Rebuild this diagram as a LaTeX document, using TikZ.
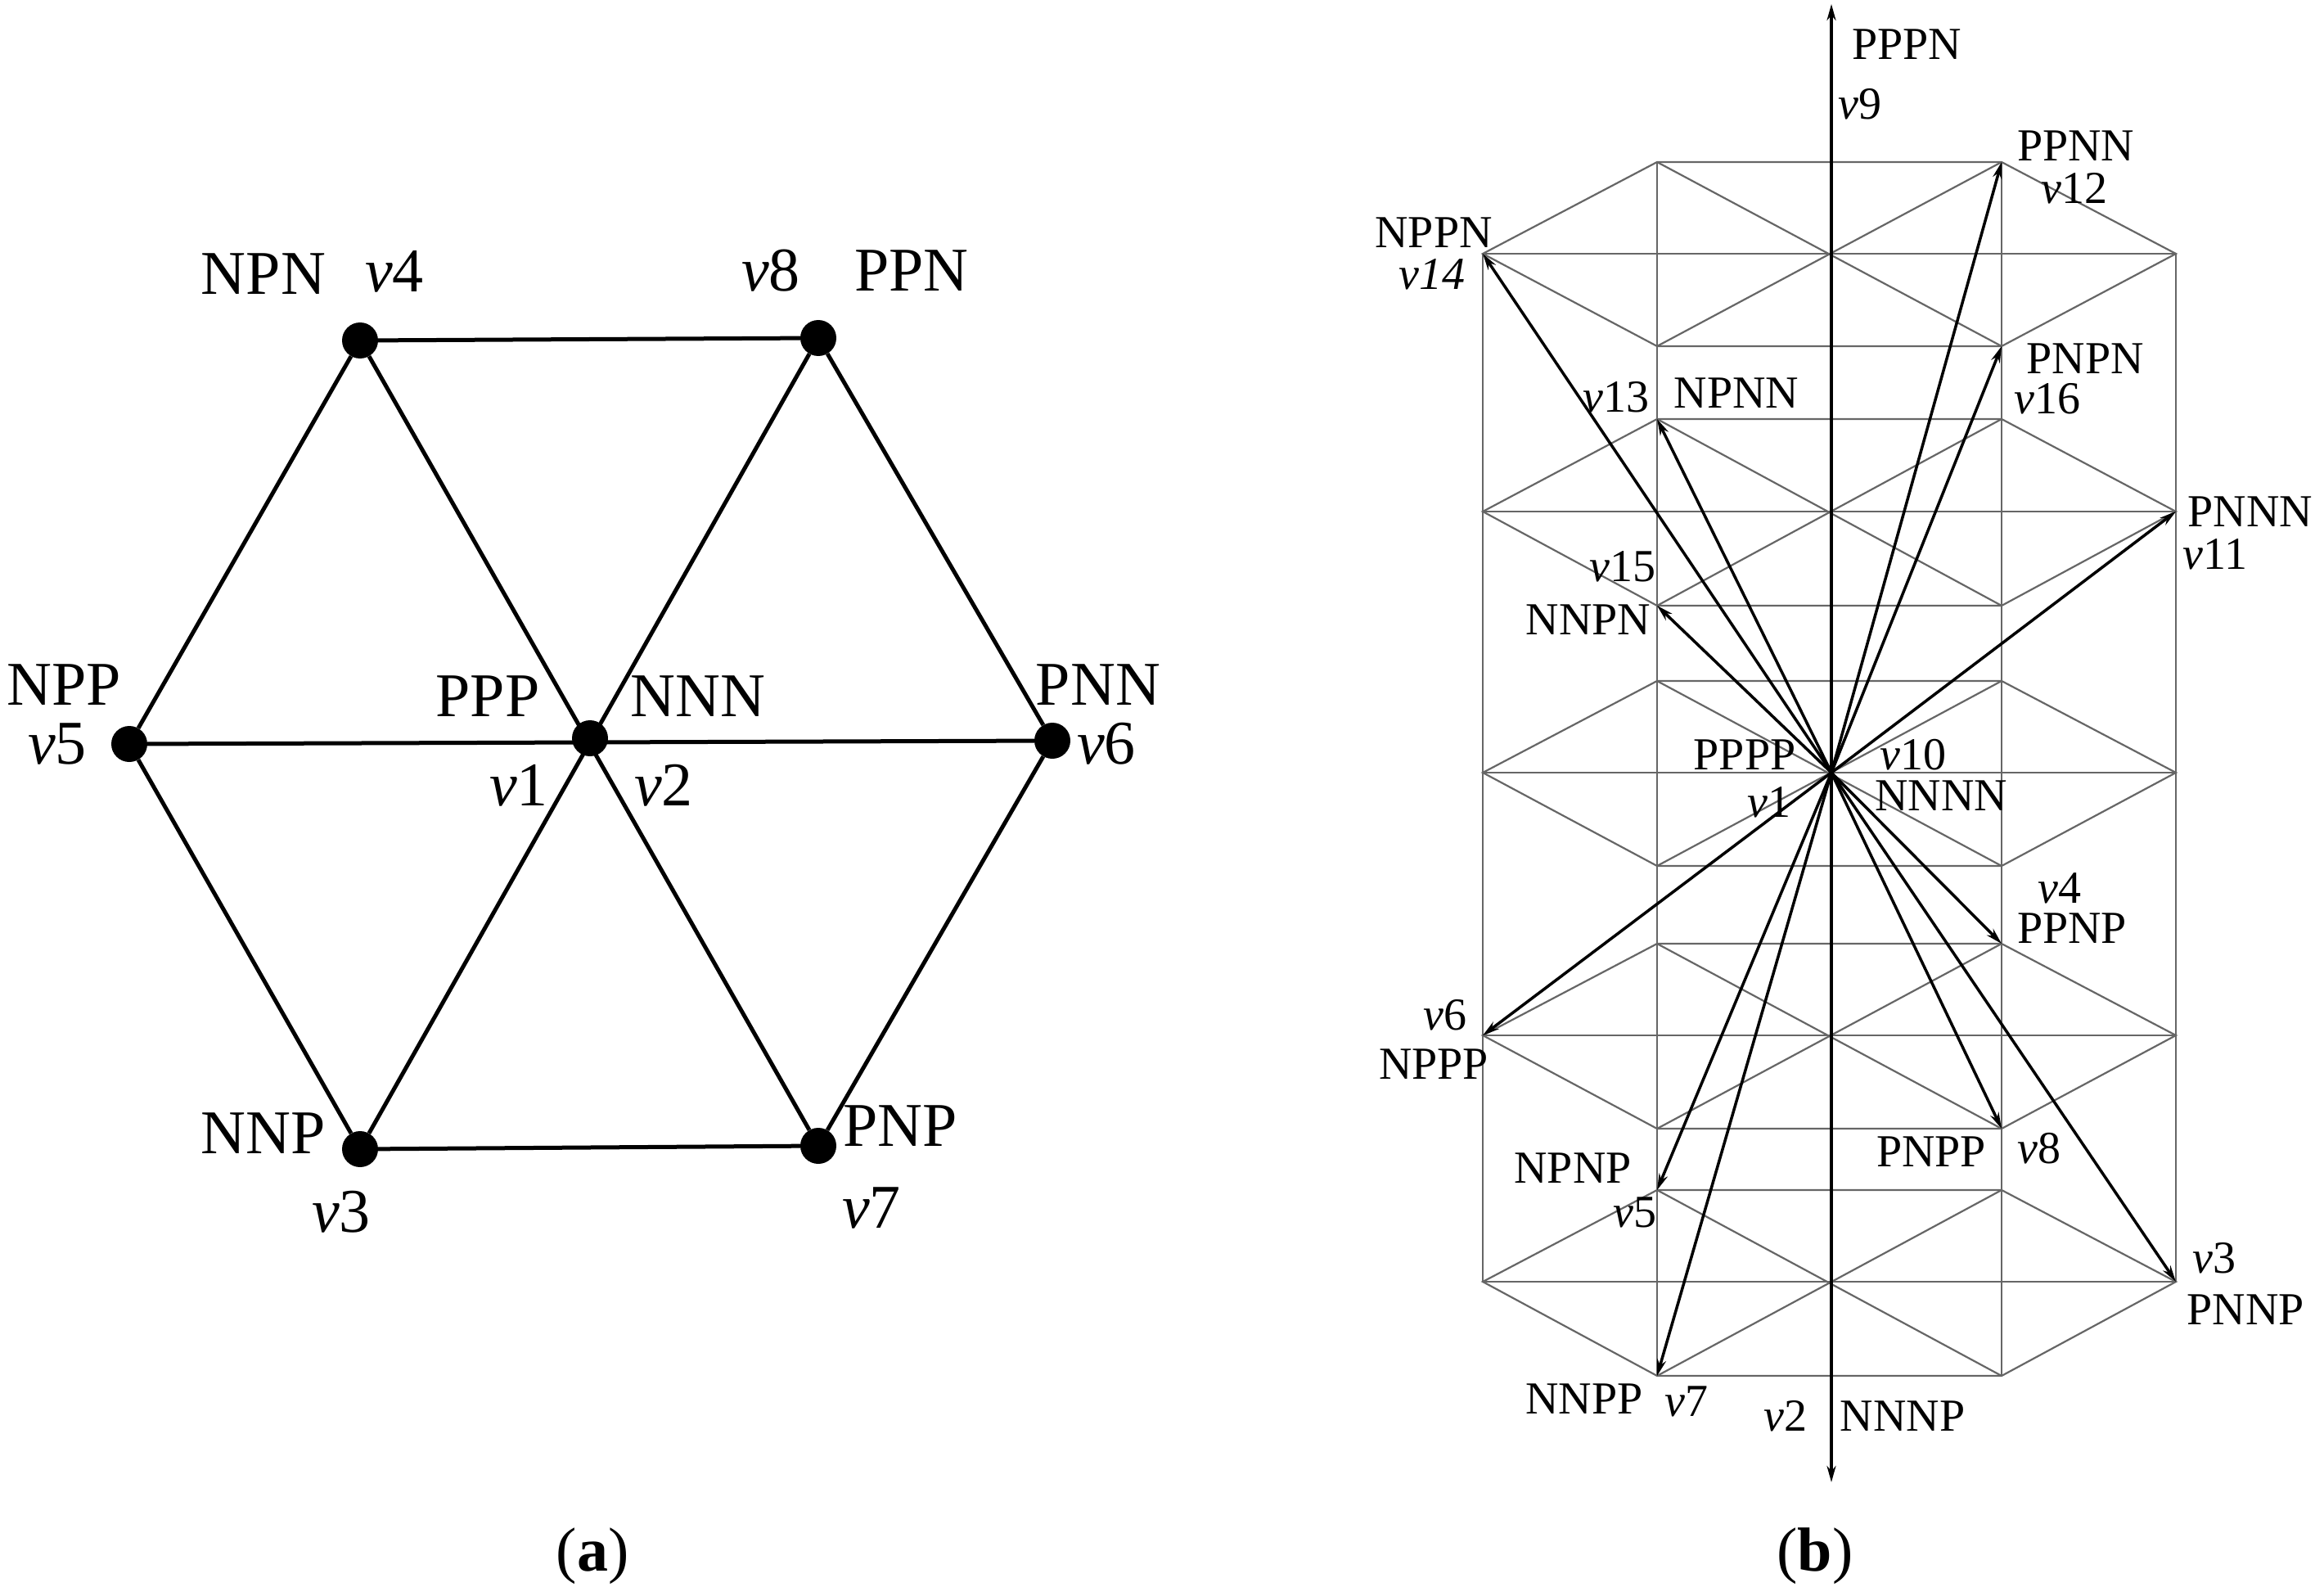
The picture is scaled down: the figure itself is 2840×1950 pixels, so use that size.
\documentclass[tikz,border=0pt]{standalone}
\usepackage{fontspec}
\setmainfont{Liberation Serif}
\usetikzlibrary{arrows.meta}
\begin{document}
\begin{tikzpicture}[x=1pt,y=-1pt,
  dot/.style={circle,fill=black,inner sep=0pt,minimum size=44pt},
  la/.style={font=\fontsize{76}{84}\selectfont,inner sep=0pt},
  lb/.style={font=\fontsize{56}{64}\selectfont,inner sep=0pt},
  edge/.style={line width=5pt},
  grid/.style={line width=2.2pt,black!60},
  vec/.style={line width=3.5pt,-{Stealth[length=20pt,width=11pt]}}]
\useasboundingbox (0,0) rectangle (2840,1950);
% ---------- (a)
\node[dot] (a4) at (440,416) {};
\node[dot] (a8) at (1000,413) {};
\node[dot] (a1) at (721,902) {};
\node[dot] (a5) at (158,909) {};
\node[dot] (a6) at (1286,905) {};
\node[dot] (a3) at (440,1404) {};
\node[dot] (a7) at (1000,1400) {};
\draw[edge] (a4)--(a8)--(a6)--(a7)--(a3)--(a5)--(a4);
\draw[edge] (a5)--(a6) (a4)--(a7) (a8)--(a3);
\node[la] at (322,335) {NPN};
\node[la] at (482,332) {\itshape v\upshape 4};
\node[la] at (942,331) {\itshape v\upshape 8};
\node[la] at (1114,331) {PPN};
\node[la,anchor=west] at (8,837) {NPP};
\node[la] at (70,909) {\itshape v\upshape 5};
\node[la] at (596,851) {PPP};
\node[la] at (853,851) {NNN};
\node[la] at (634,960) {\itshape v\upshape 1};
\node[la] at (811,960) {\itshape v\upshape 2};
\node[la] at (1342,837) {PNN};
\node[la] at (1352,909) {\itshape v\upshape 6};
\node[la] at (322,1385) {NNP};
\node[la] at (417,1481) {\itshape v\upshape 3};
\node[la] at (1100,1376) {PNP};
\node[la] at (1065,1476) {\itshape v\upshape 7};
\node[la] at (724,1901) {(\textbf{a})};
% ---------- (b) grid
\def\xa{1812}\def\xb{2025}\def\xc{2238}\def\xd{2446}\def\xe{2659}
\foreach \t/\m/\b in {198/310/423,512/625/740,832/944/1058,1153/1265/1379,1454/1566/1681}{
  \draw[grid] (\xb,\t)--(\xd,\t)--(\xe,\m)--(\xd,\b)--(\xb,\b)--(\xa,\m)--cycle;
  \draw[grid] (\xa,\m)--(\xe,\m);
  \draw[grid] (\xb,\t)--(\xd,\b) (\xb,\b)--(\xd,\t);
}
\draw[grid] (\xb,198)--(\xb,1681) (\xd,198)--(\xd,1681)
  (\xa,310)--(\xa,1566) (\xe,310)--(\xe,1566);
% ---------- (b) vectors
\coordinate (O) at (2238,944);
\coordinate (v9) at (2238,5);
\coordinate (v2) at (2238,1811);
\coordinate (v12) at (2446,198);
\coordinate (v14) at (1812,310);
\coordinate (v16) at (2446,423);
\coordinate (v13) at (2025,512);
\coordinate (v11) at (2659,625);
\coordinate (v15) at (2025,740);
\coordinate (v4) at (2446,1153);
\coordinate (v6) at (1812,1265);
\coordinate (v8) at (2446,1379);
\coordinate (v5) at (2025,1454);
\coordinate (v3) at (2659,1566);
\coordinate (v7) at (2025,1681);
\foreach \v in {v9,v2,v12,v14,v16,v13,v11,v15,v4,v6,v8,v5,v3,v7}
  \draw[vec] (O)--(\v);
% labels (b)
\node[lb] at (2330,54) {PPPN};
\node[lb] at (2273,127) {\itshape v\upshape 9};
\node[lb,anchor=west] at (2465,178) {PPNN};
\node[lb] at (2535,230) {\itshape v\upshape 12};
\node[lb] at (1752,284) {NPPN};
\node[lb] at (1750,335) {\itshape v14};
\node[lb] at (2548,438) {PNPN};
\node[lb] at (2502,487) {\itshape v\upshape 16};
\node[lb] at (1975,485) {\itshape v\upshape 13};
\node[lb] at (2122,480) {NPNN};
\node[lb] at (2750,625) {PNNN};
\node[lb] at (2707,677) {\itshape v\upshape 11};
\node[lb] at (1983,692) {\itshape v\upshape 15};
\node[lb] at (1941,757) {NNPN};
\node[lb] at (2132,922) {PPPP};
\node[lb] at (2162,980) {\itshape v\upshape 1};
\node[lb] at (2338,922) {\itshape v\upshape 10};
\node[lb] at (2372,972) {NNNN};
\node[lb] at (2517,1085) {\itshape v\upshape 4};
\node[lb] at (2532,1134) {PPNP};
\node[lb] at (1766,1240) {\itshape v\upshape 6};
\node[lb] at (1752,1300) {NPPP};
\node[lb] at (2360,1407) {PNPP};
\node[lb] at (2492,1403) {\itshape v\upshape 8};
\node[lb] at (1922,1427) {NPNP};
\node[lb] at (1998,1481) {\itshape v\upshape 5};
\node[lb] at (2706,1537) {\itshape v\upshape 3};
\node[lb] at (2744,1600) {PNNP};
\node[lb] at (1936,1709) {NNPP};
\node[lb] at (2061,1712) {\itshape v\upshape 7};
\node[lb] at (2182,1730) {\itshape v\upshape 2};
\node[lb] at (2325,1730) {NNNP};
\node[la] at (2218,1901) {(\textbf{b})};
\end{tikzpicture}
\end{document}
